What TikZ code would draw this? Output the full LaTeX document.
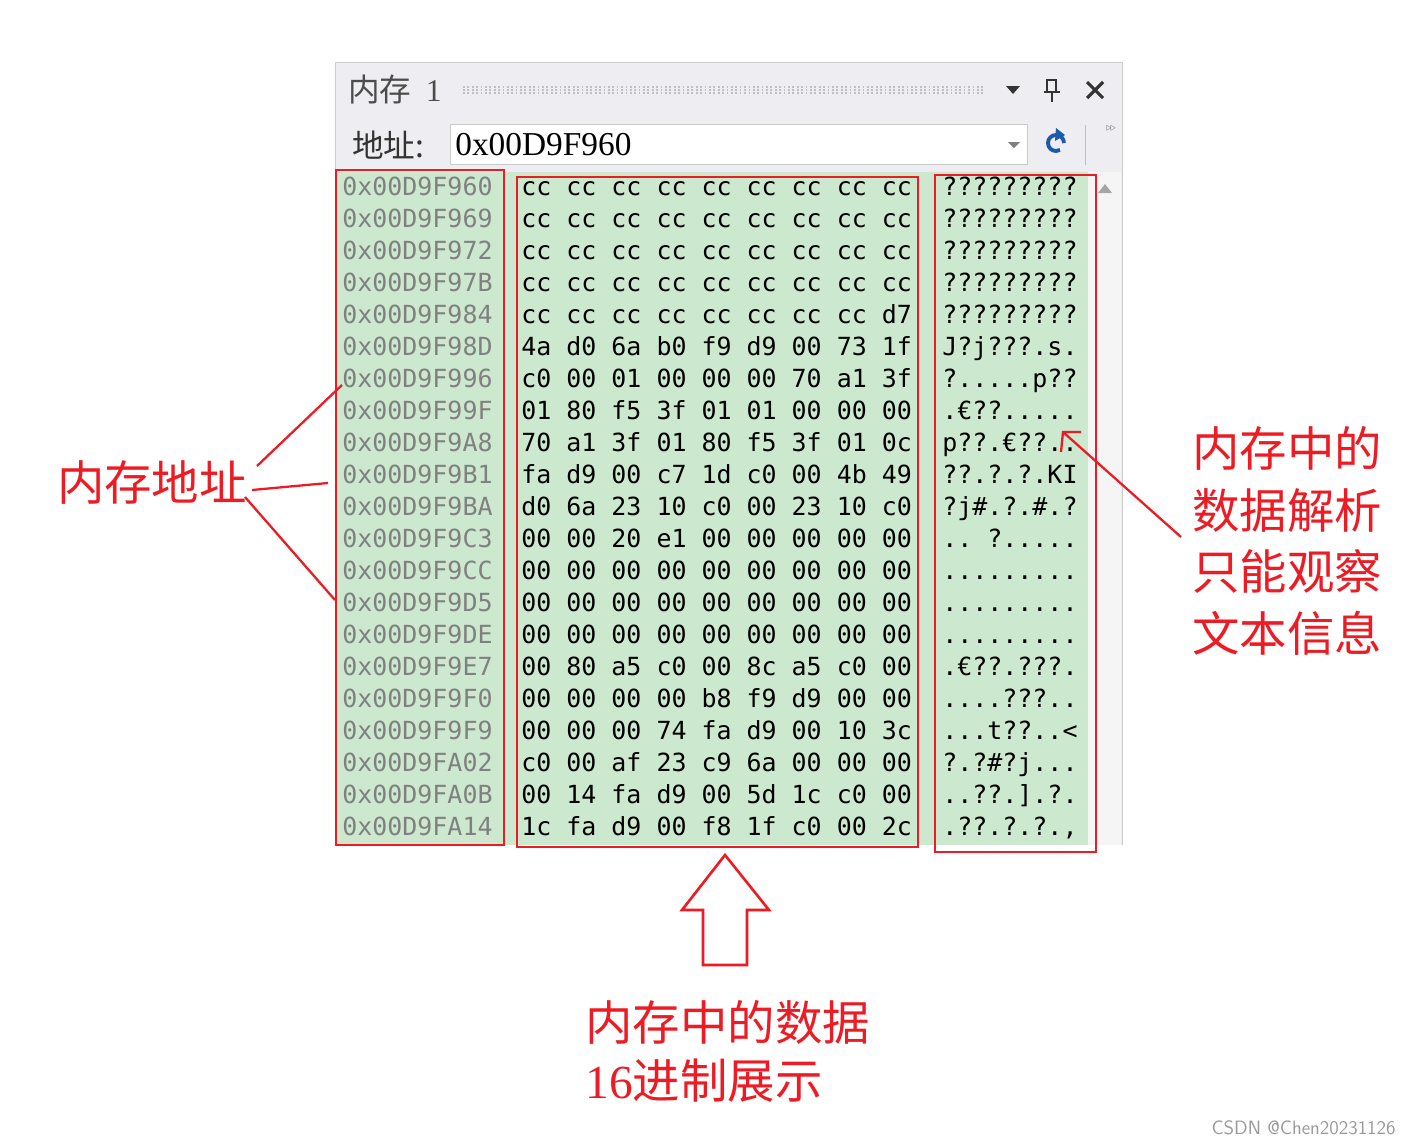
\documentclass[tikz,border=0pt]{standalone}
\usepackage{fontspec}
\setmonofont{DejaVu Sans Mono}
\newfontfamily\cjk{Noto Sans CJK SC}
\newfontfamily\serifnum{Liberation Serif}
\usetikzlibrary{positioning,calc}
\definecolor{panelgray}{RGB}{238,238,242}
\definecolor{memgreen}{RGB}{204,232,207}
\definecolor{addrgray}{RGB}{128,128,128}
\definecolor{markred}{RGB}{237,28,36}
\definecolor{vsblue}{RGB}{30,90,170}
\tikzset{
	redbox/.style={draw=markred,line width=1.6pt},
	memtext/.style={font=\ttfamily\fontsize{14.2}{14.2}\selectfont,anchor=base west,inner sep=0pt},
	redlabel/.style={font=\cjk\fontsize{27}{27}\selectfont,text=markred,inner sep=0pt},
	redline/.style={draw=markred,line width=1.3pt}
}
\begin{document}
\begin{tikzpicture}[x=0.02cm,y=-0.02cm]
\useasboundingbox (0,0) rectangle (1411,1144);
\fill[white] (0,0) rectangle (1411,1144);

%Fenetre memoire
\fill[panelgray] (335,62) rectangle (1122,845);
\draw[gray!40] (335,845) -- (335,62) -- (1122,62) -- (1122,845);
\node[font=\cjk\fontsize{18}{18}\selectfont,text=black!70,anchor=west,inner sep=0pt] (title) at (348,90) {内存\ \ {\serifnum 1}};
\foreach \k in {-3,0,3}
	\draw[gray!50,line width=0.6pt,dash pattern=on 1pt off 1.5pt] (463,90+\k) -- (985,90+\k);
\fill[black!80] (1006,86) -- (1020,86) -- (1013,94) -- cycle;
\draw[black!80,line width=1.5pt] (1047,80) rectangle (1056,92) (1044,92) -- (1060,92) (1052,92) -- (1052,102);
\draw[black!80,line width=1.8pt] (1087,82) -- (1103,98) (1103,82) -- (1087,98);

%Barre d'adresse
\node[font=\cjk\fontsize{18}{18}\selectfont,text=black!80,anchor=west,inner sep=0pt] (addrlbl) at (352,145) {地址:};
\node[draw=gray!40,fill=white,minimum width=577*0.02cm,minimum height=40*0.02cm,anchor=west,inner sep=0pt] (addrbox) at (450,144) {};
\node[font=\serifnum\fontsize{19}{19}\selectfont,anchor=west,inner sep=0pt] (addrval) at (455,145) {0x00D9F960};
\fill[gray] (1008,142) -- (1020,142) -- (1014,148) -- cycle;
\draw[vsblue,line width=2.2pt] (1064,143) arc (0:-300:8);
\fill[vsblue] (1056,128) -- (1065,135) -- (1055,141) -- cycle;
\draw[gray!50] (1085,125) -- (1085,165);
\node[font=\tiny,text=gray,inner sep=0pt] (more) at (1111,128) {$\triangleright\!\triangleright$};

%Zone des donnees
\fill[memgreen] (337,172) rectangle (1088,845);
\fill[black!4] (1088,172) rectangle (1121,845);
\fill[gray!70] (1098,193) -- (1112,193) -- (1105,184) -- cycle;

\foreach \a/\h/\t [count=\i from 0] in {
	0x00D9F960/{cc cc cc cc cc cc cc cc cc}/{?????????},
	0x00D9F969/{cc cc cc cc cc cc cc cc cc}/{?????????},
	0x00D9F972/{cc cc cc cc cc cc cc cc cc}/{?????????},
	0x00D9F97B/{cc cc cc cc cc cc cc cc cc}/{?????????},
	0x00D9F984/{cc cc cc cc cc cc cc cc d7}/{?????????},
	0x00D9F98D/{4a d0 6a b0 f9 d9 00 73 1f}/{J?j???.s.},
	0x00D9F996/{c0 00 01 00 00 00 70 a1 3f}/{?.....p??},
	0x00D9F99F/{01 80 f5 3f 01 01 00 00 00}/{.€??.....},
	0x00D9F9A8/{70 a1 3f 01 80 f5 3f 01 0c}/{p??.€??..},
	0x00D9F9B1/{fa d9 00 c7 1d c0 00 4b 49}/{??.?.?.KI},
	0x00D9F9BA/{d0 6a 23 10 c0 00 23 10 c0}/{?j\#.?.\#.?},
	0x00D9F9C3/{00 00 20 e1 00 00 00 00 00}/{..\ ?.....},
	0x00D9F9CC/{00 00 00 00 00 00 00 00 00}/{.........},
	0x00D9F9D5/{00 00 00 00 00 00 00 00 00}/{.........},
	0x00D9F9DE/{00 00 00 00 00 00 00 00 00}/{.........},
	0x00D9F9E7/{00 80 a5 c0 00 8c a5 c0 00}/{.€??.???.},
	0x00D9F9F0/{00 00 00 00 b8 f9 d9 00 00}/{....???..},
	0x00D9F9F9/{00 00 00 74 fa d9 00 10 3c}/{...t??..<},
	0x00D9FA02/{c0 00 af 23 c9 6a 00 00 00}/{?.?\#?j...},
	0x00D9FA0B/{00 14 fa d9 00 5d 1c c0 00}/{..??.].?.},
	0x00D9FA14/{1c fa d9 00 f8 1f c0 00 2c}/{.??.?.?.,}}
{
	\node[memtext,text=addrgray] (addr\i) at (342,195+32*\i) {\a};
	\node[memtext] (hex\i) at (521,195+32*\i) {\h};
	\node[memtext] (txt\i) at (942,195+32*\i) {\t};
}

%Cadres rouges
\draw[redbox] (336,170) rectangle (504,845);
\draw[redbox] (517,177) rectangle (918,847);
\draw[redbox] (935,175) rectangle (1096,852);

%Etiquette gauche
\node[redlabel] (lblAddr) at (152,483) {内存地址};
\coordinate (a1) at (342,385);
\coordinate (a2) at (328,483);
\coordinate (a3) at (335,600);
\draw[redline] (257,466) -- (a1);
\draw[redline] (252,490) -- (a2);
\draw[redline] (245,497) -- (a3);

%Etiquette droite
\node[redlabel,align=center,text width=200*0.02cm] (lblText) at (1287,541) {内存中的\\[8pt]数据解析\\[8pt]只能观察\\[8pt]文本信息};
\coordinate (tip) at (1063,432);
\draw[redline] (1181,537) -- (tip);
\draw[redline] (1081,432) -- (tip) -- (1061,452);

%Fleche creuse
\draw[markred,line width=1.5pt] (725,855) -- (769,910) -- (747,910) -- (747,965) -- (703,965) -- (703,910) -- (682,910) -- cycle;
\node[redlabel,anchor=west,align=left] (lblHex) at (585,1051) {内存中的数据\\[6pt]{\serifnum 16}进制展示};

\node[font=\sffamily\fontsize{11}{11}\selectfont,text=gray!80,anchor=east,inner sep=0pt] (mark) at (1396,1128) {CSDN @Chen20231126};
\end{tikzpicture}
\end{document}
